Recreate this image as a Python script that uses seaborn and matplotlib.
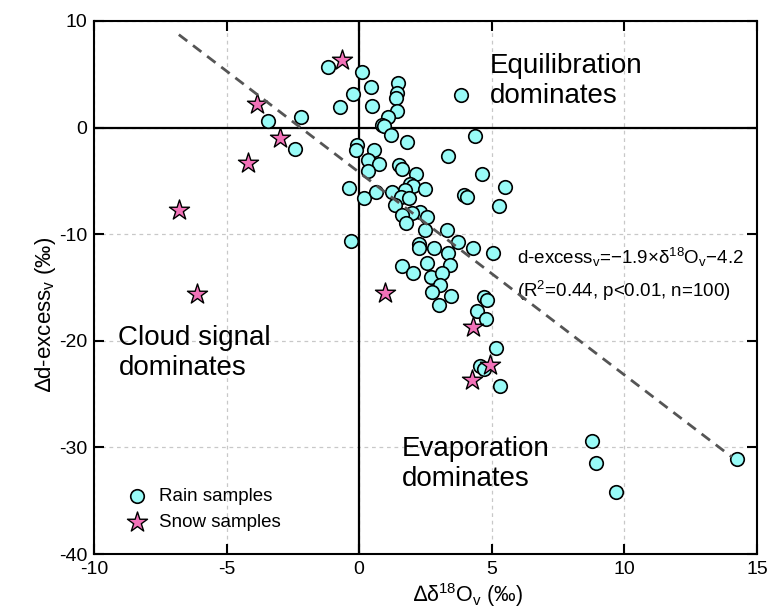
import matplotlib
matplotlib.use("Agg")
import matplotlib.pyplot as plt
import seaborn as sns
import numpy as np
import pandas as pd

# Rain samples: anomaly of vapour d18O (permil) and d-excess (permil)
rain_d18o = [-1.18, 0.09, 0.45, -0.24, -0.73, 0.50, -3.44, -2.20, -2.41, -0.08,
             -0.11, 0.55, 0.33, 0.73, 0.33, -0.39, 0.19, 0.63, -0.30, 1.46,
             1.41, 1.38, 1.43, 1.10, 0.86, 0.95, 1.21, 1.80, 1.50, 1.61,
             2.15, 3.84, 4.35, 3.34, 4.62, 5.50, 3.97, 4.08, 5.28, 1.92,
             2.02, 1.73, 2.49, 1.23, 1.57, 1.86, 1.36, 2.30, 1.99, 2.57,
             1.61, 1.77, 2.49, 3.31, 3.72, 4.29, 5.06, 2.27, 2.24, 2.84,
             3.34, 1.61, 2.02, 2.55, 3.43, 2.71, 3.12, 3.03, 2.74, 3.46,
             3.02, 4.71, 4.81, 4.44, 4.78, 5.15, 4.56, 4.71, 5.31, 8.79,
             8.92, 9.68, 14.26]
rain_dxs = [5.73, 5.26, 3.79, 3.13, 1.97, 2.04, 0.63, 0.97, -2.00, -1.62,
            -2.09, -2.09, -3.03, -3.44, -4.04, -5.69, -6.60, -6.07, -10.60, 4.23,
            3.23, 2.76, 1.57, 1.03, 0.25, 0.16, -0.69, -1.31, -3.50, -3.91,
            -4.35, 3.07, -0.78, -2.63, -4.38, -5.60, -6.32, -6.48, -7.32, -5.29,
            -5.47, -5.85, -5.76, -6.07, -6.54, -6.63, -7.26, -7.89, -7.98, -8.42,
            -8.20, -8.92, -9.61, -9.61, -10.70, -11.33, -11.73, -10.92, -11.33, -11.27,
            -11.80, -12.99, -13.60, -12.68, -12.90, -14.00, -13.60, -14.76, -15.40, -15.77,
            -16.65, -15.87, -16.18, -17.20, -17.99, -20.70, -22.40, -22.60, -24.20, -29.40,
            -31.50, -34.20, -31.10]

# Snow samples
snow_d18o = [-0.63, -3.86, -3.00, -4.18, -6.81, -6.12, 0.98, 4.28, 4.94, 4.27]
snow_dxs = [6.36, 2.20, -0.94, -3.34, -7.73, -15.64, -15.55, -18.70, -22.30, -23.70]

# Linear fit reported for all samples
fit_slope = -1.9
fit_intercept = -4.2
fit_range = [-6.8, 14.05]

x_ticks = [-10, -5, 0, 5, 10, 15]
y_ticks = [-40, -30, -20, -10, 0, 10]

sns.set_style("ticks")
plt.rcParams["font.family"] = ["Liberation Sans", "DejaVu Sans"]
plt.rcParams["mathtext.fontset"] = "custom"
plt.rcParams["mathtext.rm"] = "Liberation Sans"
plt.rcParams["mathtext.it"] = "Liberation Sans:italic"
plt.rcParams["mathtext.bf"] = "Liberation Sans:bold"
plt.rcParams["axes.unicode_minus"] = False
plt.rcParams["text.color"] = "black"
plt.rcParams["axes.labelcolor"] = "black"

fig = plt.figure(figsize=(7.71, 6.14), dpi=100)
ax = fig.add_axes([0.1219, 0.0977, 0.8599, 0.8681])

rain = pd.DataFrame({"d18o": rain_d18o, "dxs": rain_dxs})
snow = pd.DataFrame({"d18o": snow_d18o, "dxs": snow_dxs})
fit = pd.DataFrame({"d18o": fit_range})
fit["dxs"] = fit_slope * fit["d18o"] + fit_intercept

ax.grid(True, color="#c8c8c8", linestyle=(0, (3, 3)), linewidth=0.9, zorder=0)
ax.axhline(0, color="black", linewidth=1.6, zorder=1)
ax.axvline(0, color="black", linewidth=1.6, zorder=1)

sns.scatterplot(data=rain, x="d18o", y="dxs", ax=ax, marker="o", s=95,
                color="#98fbf7", edgecolor="black", linewidth=1.2,
                label="Rain samples", zorder=3)
sns.scatterplot(data=snow, x="d18o", y="dxs", ax=ax, marker="*", s=230,
                color="#f272b8", edgecolor="black", linewidth=1.0,
                label="Snow samples", zorder=3)
sns.lineplot(data=fit, x="d18o", y="dxs", ax=ax, color="#555555",
             linewidth=2.0, dashes=False, zorder=4)
ax.lines[-1].set_dashes((3.8, 2.6))

ax.set_xlim(-10, 15)
ax.set_ylim(-40, 10)
ax.set_xticks(x_ticks)
ax.set_yticks(y_ticks)
ax.tick_params(direction="in", length=7, width=1.5, top=True, right=True,
               labelsize=14, pad=5, colors="black")
for sp in ax.spines.values():
    sp.set_linewidth(1.5)
    sp.set_color("black")

ax.set_xlabel("\u2206\u03b4$^{\\mathregular{18}}$O$_{\\mathregular{v}}$ (\u2030)",
              fontsize=15.5, labelpad=2)
ax.set_ylabel("\u2206d-excess$_{\\mathregular{v}}$ (\u2030)", fontsize=16)
ax.xaxis.set_label_coords(0.564, -0.05)
ax.yaxis.set_label_coords(-0.054, 0.45)

# quadrant labels (y is the baseline of the second line)
ax.text(4.94, 2.3, "Equilibration\ndominates", fontsize=20, va="baseline",
        ha="left", linespacing=1.2)
ax.text(-9.08, -23.2, "Cloud signal\ndominates", fontsize=20, va="baseline",
        ha="left", linespacing=1.2)
ax.text(1.61, -33.6, "Evaporation\ndominates", fontsize=20, va="baseline",
        ha="left", linespacing=1.2)
ax.text(5.95, -12.8,
        "d-excess$_{\\mathregular{v}}$=\u2212%.1f\u00d7\u03b4$^{\\mathregular{18}}$O$_{\\mathregular{v}}$\u2212%.1f"
        % (-fit_slope, -fit_intercept),
        fontsize=13.5, va="baseline", ha="left")
ax.text(5.95, -15.9, "(R$^{\\mathregular{2}}$=0.44, p<0.01, n=100)",
        fontsize=13.5, va="baseline", ha="left")

leg = ax.legend(loc="upper left", bbox_to_anchor=(0.05, 0.124), frameon=False,
                fontsize=13.5, handlelength=1.0, handletextpad=0.7,
                borderpad=0, borderaxespad=0, labelspacing=0.45)

fig.savefig("out.png", dpi=100)
